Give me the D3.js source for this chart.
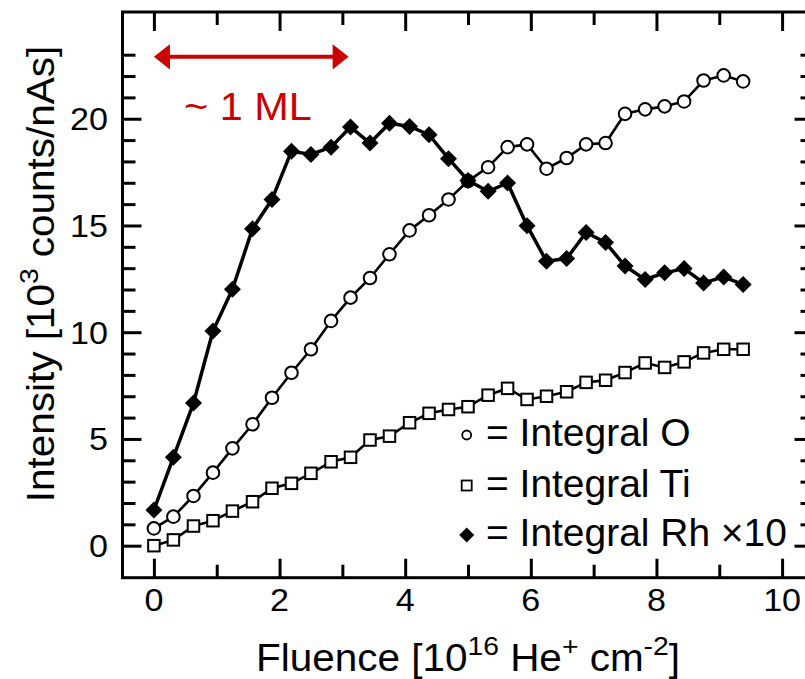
<!DOCTYPE html>
<html>
<head>
<meta charset="utf-8">
<script src="https://cdn.jsdelivr.net/npm/d3@7"></script>
<style>
  body { margin: 0; background: #fff; }
  svg { display: block; }
  text { font-family: "Liberation Sans", Arial, Helvetica, sans-serif; }
</style>
</head>
<body>
<div id="chart"></div>
<script>
// fluence values [10^16 He+ cm^-2]
const fluence = [0, 0.31, 0.63, 0.94, 1.25, 1.57, 1.88, 2.19, 2.5, 2.82, 3.13,
  3.44, 3.75, 4.07, 4.38, 4.69, 5.0, 5.32, 5.63, 5.94, 6.25, 6.57, 6.88, 7.19,
  7.5, 7.82, 8.13, 8.44, 8.75, 9.07, 9.38];

const integralO = [0.81, 1.36, 2.33, 3.42, 4.56, 5.69, 6.93, 8.10, 9.20, 10.53, 11.62,
  12.54, 13.65, 14.77, 15.48, 16.22, 17.08, 17.73, 18.67, 18.80, 17.66, 18.16, 18.80,
  18.86, 20.23, 20.44, 20.58, 20.81, 21.79, 22.03, 21.75];

const integralTi = [0.0, 0.27, 0.92, 1.17, 1.62, 2.06, 2.69, 2.92, 3.39, 3.93, 4.14,
  4.95, 5.13, 5.76, 6.20, 6.38, 6.51, 7.05, 7.37, 6.85, 7.00, 7.21, 7.65, 7.75,
  8.11, 8.56, 8.35, 8.61, 9.03, 9.20, 9.20];

const integralRh = [1.67, 4.14, 6.68, 10.06, 12.01, 14.85, 16.22, 18.48, 18.33, 18.67, 19.61,
  18.86, 19.79, 19.64, 19.25, 18.13, 17.11, 16.60, 16.99, 14.99, 13.32, 13.45, 14.67,
  14.20, 13.10, 12.47, 12.78, 12.98, 12.31, 12.59, 12.23];

const xMajorTicks = [0, 2, 4, 6, 8, 10];
const xMinorTicks = [1, 3, 5, 7, 9];
const yMajorTicks = [0, 5, 10, 15, 20];
const yMinorTicks = d3.range(0, 24).filter(v => v % 5 !== 0);

const legendLabels = ["= Integral O", "= Integral Ti", "= Integral Rh \u00d710"];
const monolayerSpan = [0, 3.1];
const monolayerLevel = 22.9;
const monolayerLabel = "~ 1 ML";

const width = 805, height = 679;
const svg = d3.select("#chart").append("svg")
  .attr("width", width).attr("height", height);

const x = d3.scaleLinear().domain([-0.5, 10.5]).range([122.5, 813.5]);
const y = d3.scaleLinear().domain([-1.5, 25]).range([577.7, 12]);

const bigFont = 38, tickFont = 32;
const stretch = 1.065; // source lettering is a bit wider than Liberation Sans
const majorLen = 19, minorLen = 13;

// frame
svg.append("rect")
  .attr("x", x(-0.5)).attr("y", y(25))
  .attr("width", x(10.5) - x(-0.5)).attr("height", y(-1.5) - y(25))
  .attr("fill", "none").attr("stroke", "#000").attr("stroke-width", 3);

function tickAxis(axisFn, scale, values, len, tx, ty) {
  const g = svg.append("g")
    .attr("transform", `translate(${tx},${ty})`)
    .call(axisFn(scale).tickValues(values).tickSize(-len).tickFormat(""));
  g.select(".domain").remove();
  g.selectAll(".tick line").attr("stroke", "#000").attr("stroke-width", 3);
  return g;
}

// inward ticks on all four sides
tickAxis(d3.axisBottom, x, xMajorTicks, majorLen, 0, y(-1.5));
tickAxis(d3.axisBottom, x, xMinorTicks, minorLen, 0, y(-1.5));
tickAxis(d3.axisTop, x, xMajorTicks, majorLen, 0, y(25));
tickAxis(d3.axisTop, x, xMinorTicks, minorLen, 0, y(25));
tickAxis(d3.axisLeft, y, yMajorTicks, majorLen, x(-0.5), 0);
tickAxis(d3.axisLeft, y, yMinorTicks, minorLen, x(-0.5), 0);
tickAxis(d3.axisRight, y, yMajorTicks, majorLen, x(10.5), 0);
tickAxis(d3.axisRight, y, yMinorTicks, minorLen, x(10.5), 0);

// tick labels
svg.append("g").selectAll("text")
  .data(xMajorTicks).join("text")
  .attr("transform", d => `translate(${x(d)},611) scale(${stretch},1)`)
  .attr("text-anchor", "middle")
  .attr("font-size", tickFont)
  .text(d => d);

svg.append("g").selectAll("text")
  .data(yMajorTicks).join("text")
  .attr("transform", d => `translate(108,${y(d) + 11.5}) scale(${stretch},1)`)
  .attr("text-anchor", "end")
  .attr("font-size", tickFont)
  .text(d => d);

// axis titles with superscripts
function richText(sel, parts, fs) {
  parts.forEach(p => {
    const t = sel.append("tspan").text(p.t);
    if (p.sup) t.attr("font-size", fs * 0.7).attr("dy", -fs * 0.42);
    if (p.after) t.attr("dy", fs * 0.42);
  });
}

const xTitle = svg.append("text")
  .attr("transform", `translate(${(x(-0.5) + x(10.5)) / 2},671) scale(${stretch},1)`)
  .attr("text-anchor", "middle").attr("font-size", bigFont);
richText(xTitle, [
  { t: "Fluence [10" }, { t: "16", sup: true }, { t: " He", after: true },
  { t: "+", sup: true }, { t: " cm", after: true }, { t: "-2", sup: true },
  { t: "]", after: true }
], bigFont);

const yTitle = svg.append("text")
  .attr("transform", `translate(54,274) rotate(-90) scale(${stretch},1)`)
  .attr("text-anchor", "middle").attr("font-size", bigFont);
richText(yTitle, [
  { t: "Intensity [10" }, { t: "3", sup: true }, { t: " counts/nAs]", after: true }
], bigFont);

// series
const line = d3.line().x((d, i) => x(fluence[i])).y(d => y(d));
const diamond = s => `M0,${-s}L${s},0L0,${s}L${-s},0Z`;

function drawSeries(values, lw, marker) {
  const g = svg.append("g");
  g.append("path").datum(values)
    .attr("d", line).attr("fill", "none")
    .attr("stroke", "#000").attr("stroke-width", lw).attr("stroke-linejoin", "round");
  const pts = g.selectAll("g.pt").data(values).join("g")
    .attr("transform", (d, i) => `translate(${x(fluence[i])},${y(d)})`);
  marker(pts);
}

const circleMarker = (sel, r, sw) => sel.append("circle").attr("r", r)
  .attr("fill", "#fff").attr("stroke", "#000").attr("stroke-width", sw);
const squareMarker = (sel, s, sw) => sel.append("rect")
  .attr("x", -s / 2).attr("y", -s / 2).attr("width", s).attr("height", s)
  .attr("fill", "#fff").attr("stroke", "#000").attr("stroke-width", sw);
const diamondMarker = (sel, s) => sel.append("path").attr("d", diamond(s)).attr("fill", "#000");

drawSeries(integralTi, 2.6, s => squareMarker(s, 11.5, 2));
drawSeries(integralO, 2.6, s => circleMarker(s, 6.3, 2));
drawSeries(integralRh, 3.5, s => diamondMarker(s, 8.5));

// legend
const legend = svg.append("g");
const legendRows = [435, 485.5, 535];
const legendMarkers = [
  s => circleMarker(s, 4.5, 1.8),
  s => squareMarker(s, 10, 1.8),
  s => diamondMarker(s, 7.5)
];
legendLabels.forEach((lab, i) => {
  const m = legend.append("g").attr("transform", `translate(466.7,${legendRows[i]})`);
  legendMarkers[i](m);
  legend.append("text")
    .attr("transform", `translate(486,${legendRows[i] + 11}) scale(1.025,1)`)
    .attr("font-size", bigFont)
    .text(lab);
});

// monolayer arrow annotation
const red = "#cc0000";
const ay = y(monolayerLevel), ax0 = x(monolayerSpan[0]), ax1 = x(monolayerSpan[1]);
const headL = 16, headW = 12.7;
svg.append("line")
  .attr("x1", ax0 + headL - 2).attr("x2", ax1 - headL + 2)
  .attr("y1", ay).attr("y2", ay)
  .attr("stroke", red).attr("stroke-width", 4);
svg.append("path")
  .attr("d", `M${ax0},${ay}L${ax0 + headL},${ay - headW}L${ax0 + headL},${ay + headW}Z`)
  .attr("fill", red);
svg.append("path")
  .attr("d", `M${ax1},${ay}L${ax1 - headL},${ay - headW}L${ax1 - headL},${ay + headW}Z`)
  .attr("fill", red);
svg.append("text")
  .attr("transform", `translate(184,120) scale(1.09,1)`)
  .attr("font-size", bigFont).attr("fill", red)
  .text(monolayerLabel);
</script>
</body>
</html>
